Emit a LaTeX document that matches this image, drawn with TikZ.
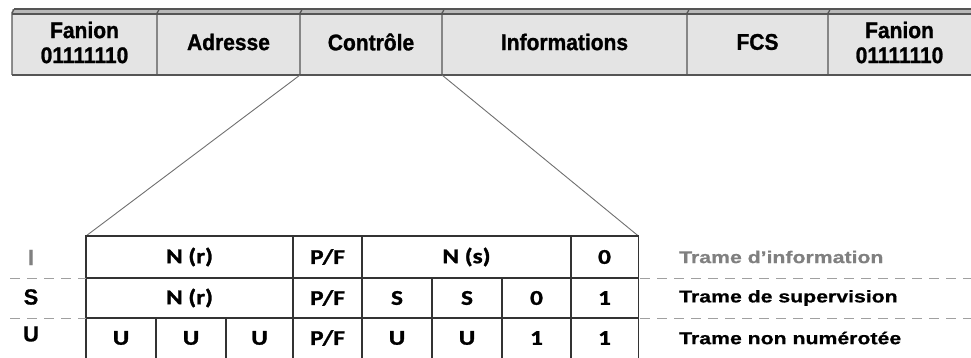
\documentclass[tikz,border=0pt]{standalone}
\usepackage{fontspec}
\setmainfont{Liberation Sans}
\newfontfamily\topf{Liberation Sans Bold}[FakeBold=1.2]
\newfontfamily\labf{Liberation Sans Bold}[FakeBold=0.6]
\newfontfamily\carl{Carlito Bold}[FakeBold=1.2]
\usepackage{graphicx}
\definecolor{boxfill}{HTML}{E4E4E4}
\definecolor{boxline}{HTML}{555555}
\definecolor{topband}{HTML}{B8B8B8}
\definecolor{linkgray}{HTML}{707070}
\definecolor{dashgray}{HTML}{A0A0A0}
\definecolor{labgray}{HTML}{808080}
\definecolor{tabline}{HTML}{333333}
\newcommand{\sxr}[2]{\scalebox{#1}[1]{#2}}
\newcommand{\syr}[1]{\scalebox{1}[1.08]{#1}}
\begin{document}
\begin{tikzpicture}[x=1pt,y=-1pt,
  topcell/.style={inner sep=0pt, minimum height=66pt, align=center,
    font=\topf\fontsize{21}{25}\selectfont},
  celltxt/.style={inner sep=0pt, font=\carl\fontsize{21}{24}\selectfont},
  rowlab/.style={inner sep=0pt, font=\labf\fontsize{22}{24}\selectfont},
  sidelab/.style={inner sep=0pt, anchor=west, font=\labf\fontsize{17}{20}\selectfont},
  tabrule/.style={draw=tabline, line width=1.5pt},
  sep/.style={draw=dashgray, line width=0.9pt, dash pattern=on 10pt off 7pt},
  link/.style={draw=linkgray, line width=0.9pt}]
\useasboundingbox (0,0) rectangle (971,358);
% top frame
\fill[boxfill] (12,10) rectangle (971,75);
\fill[topband] (12,9) rectangle (971,14);
\draw[boxline, line width=1.2pt] (12,14) -- (971,14);
\draw[boxline, line width=2pt] (12,75) -- (971,75);
\draw[boxline, line width=1.2pt] (14,9) -- (971,9);
\draw[boxline, line width=1.2pt] (12,75) -- (12,13) to[out=-90,in=180] (15,9);
\foreach \xx in {157,300,442,687,828}{
  \draw[boxline, line width=1.2pt] (\xx,75) -- (\xx,14) to[out=-90,in=180] (\xx+3,9);
}
\node[topcell, minimum width=145pt] (fan1) at (84.5,42.5) {\syr{Fanion}\\\syr{01111110}};
\node[topcell, minimum width=143pt] (adr) at (228.5,42) {\syr{Adresse}};
\node[topcell, minimum width=142pt] (ctrl) at (371,42) {\syr{Contrôle}};
\node[topcell, minimum width=245pt] (info) at (564.5,42) {\syr{Informations}};
\node[topcell, minimum width=141pt] (fcs) at (757.5,42) {\syr{FCS}};
\node[topcell, minimum width=142pt] (fan2) at (899.5,42.5) {\syr{Fanion}\\\syr{01111110}};
% table
\node[inner sep=0pt, minimum width=552pt, minimum height=122pt, anchor=north west] (tbl) at (86,236) {};
\draw[link] (ctrl.south west) -- (tbl.north west);
\draw[link] (ctrl.south east) -- (tbl.north east);
\draw[tabrule] (tbl.south west) -- (tbl.north west) -- (tbl.north east) -- (tbl.south east);
\draw[tabrule] (86,278) -- (638,278);
\draw[tabrule] (86,318) -- (638,318);
\draw[tabrule] (293,236) -- (293,358);
\draw[tabrule] (362,236) -- (362,358);
\draw[tabrule] (571,236) -- (571,358);
\draw[tabrule] (432,278) -- (432,358);
\draw[tabrule] (502,278) -- (502,358);
\draw[tabrule] (156,318) -- (156,358);
\draw[tabrule] (226,318) -- (226,358);
% row I
\node[celltxt] (i1) at (189.5,257) {\sxr{1.2}{N (r)}};
\node[celltxt] (i2) at (327.5,257) {\sxr{1.2}{P/F}};
\node[celltxt] (i3) at (466.5,257) {\sxr{1.2}{N (s)}};
\node[celltxt] (i4) at (604.5,257) {\sxr{1.2}{0}};
% row S
\node[celltxt] (s1) at (189.5,298) {\sxr{1.2}{N (r)}};
\node[celltxt] (s2) at (327.5,298) {\sxr{1.2}{P/F}};
\node[celltxt] (s3) at (397,298) {\sxr{1.2}{S}};
\node[celltxt] (s4) at (467,298) {\sxr{1.2}{S}};
\node[celltxt] (s5) at (536.5,298) {\sxr{1.2}{0}};
\node[celltxt] (s6) at (604.5,298) {\sxr{1.2}{1}};
% row U
\node[celltxt] (u1) at (121,338) {\sxr{1.2}{U}};
\node[celltxt] (u2) at (191,338) {\sxr{1.2}{U}};
\node[celltxt] (u3) at (259.5,338) {\sxr{1.2}{U}};
\node[celltxt] (u4) at (327.5,338) {\sxr{1.2}{P/F}};
\node[celltxt] (u5) at (397,338) {\sxr{1.2}{U}};
\node[celltxt] (u6) at (467,338) {\sxr{1.2}{U}};
\node[celltxt] (u7) at (536.5,338) {\sxr{1.2}{1}};
\node[celltxt] (u8) at (604.5,338) {\sxr{1.2}{1}};
% separators
\draw[sep] (10,278) -- (86,278);
\draw[sep] (10,318) -- (86,318);
\draw[sep] (640,278) -- (971,278);
\draw[sep] (640,318) -- (971,318);
% row labels
\node[rowlab, text=labgray] (li) at (31,257.5) {I};
\node[rowlab] (ls) at (31,297) {S};
\node[rowlab] (lu) at (31,334) {U};
\node[sidelab, text=labgray] (ti) at (679,257) {\sxr{1.25}{Trame d’information}};
\node[sidelab] (ts) at (679,298) {\sxr{1.25}{Trame de supervision}};
\node[sidelab] (tu) at (679,338) {\sxr{1.25}{Trame non numérotée}};
\end{tikzpicture}
\end{document}
